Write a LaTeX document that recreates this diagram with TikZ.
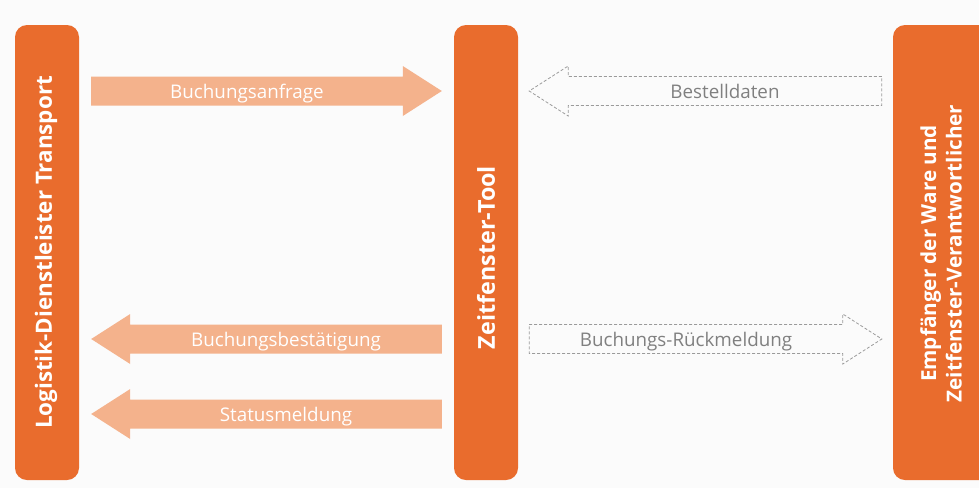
\documentclass[tikz,border=0pt]{standalone}
\usepackage{fontspec}
\setmainfont{Open Sans}
\usetikzlibrary{calc}
\definecolor{boxorange}{RGB}{233,108,45}
\definecolor{arrowlight}{RGB}{244,178,140}
\definecolor{dashgray}{RGB}{155,155,155}
\definecolor{textgray}{RGB}{128,128,128}
\definecolor{bg}{RGB}{251,251,251}
\tikzset{
  lane/.style={fill=boxorange, rounded corners=12pt, minimum width=64pt, minimum height=455pt, inner sep=0pt},
  lanelabel/.style={text=white, font=\bfseries\fontsize{22.4}{25}\selectfont, rotate=90, align=center},
  solidarrow/.style={fill=arrowlight},
  dasharrow/.style={draw=dashgray, line width=0.8pt, dash pattern=on 3pt off 2pt},
  solidlabel/.style={text=white, font=\fontsize{18.8}{20}\selectfont, anchor=base},
  dashlabel/.style={text=textgray, font=\fontsize{18.8}{20}\selectfont, anchor=base},
}
% #1 shape style, #2 label style, #3 tail, #4 tip, #5 text
\newcommand\fatarrow[5]{%
  \path[#1] let \p1=(#3), \p2=(#4), \n1={sign(\x2-\x1)} in
    (\x1,\y1+14.5pt) -- (\x2-\n1*39pt,\y1+14.5pt) -- (\x2-\n1*39pt,\y1+25pt)
    -- (\x2,\y2) -- (\x2-\n1*39pt,\y1-25pt) -- (\x2-\n1*39pt,\y1-14.5pt)
    -- (\x1,\y1-14.5pt) -- cycle;
  \path let \p1=(#3), \p2=(#4), \n1={sign(\x2-\x1)} in
    node[#2] at ({(\x1+\x2-\n1*39pt)/2},\y1-7pt) {#5};
}
\begin{document}
\begin{tikzpicture}[x=1pt,y=-1pt]
  \useasboundingbox (0,0) rectangle (979,488);
  \fill[bg] (0,0) rectangle (979,488);
  \clip (0,0) rectangle (979,488);

  \node[lane] (L) at (47,252.5) {};
  \node[lanelabel] at ([xshift=-1pt]L.center) {Logistik-Dienstleister Transport};
  \node[lane] (M) at (486,252.5) {};
  \node[lanelabel, font=\bfseries\fontsize{23.3}{26}\selectfont] at ([yshift=-5pt]M.center) {Zeitfenster-Tool};
  \node[lane, minimum width=100pt] (R) at (943,252.5) {};
  \node[lanelabel, font=\bfseries\fontsize{20.7}{25.5}\selectfont] at ([xshift=-2pt, yshift=-1pt]R.center) {Empfänger der Ware und\\Zeitfenster-Verantwortlicher};

  \coordinate (r1) at (0,91);
  \coordinate (r2) at (0,339);
  \coordinate (r3) at (0,414);

  \coordinate (a1s) at ([xshift=12pt]L.east |- r1);
  \coordinate (a1e) at ([xshift=-12pt]M.west |- r1);
  \coordinate (a2s) at ([xshift=-11pt]R.west |- r1);
  \coordinate (a2e) at ([xshift=11pt]M.east |- r1);
  \coordinate (a3s) at ([xshift=-12pt]M.west |- r2);
  \coordinate (a3e) at ([xshift=12pt]L.east |- r2);
  \coordinate (a4s) at ([xshift=-12pt]M.west |- r3);
  \coordinate (a4e) at ([xshift=12pt]L.east |- r3);
  \coordinate (a5s) at ([xshift=11pt]M.east |- r2);
  \coordinate (a5e) at ([xshift=-11pt]R.west |- r2);

  \fatarrow{solidarrow}{solidlabel}{a1s}{a1e}{Buchungsanfrage}
  \fatarrow{dasharrow}{dashlabel}{a2s}{a2e}{Bestelldaten}
  \fatarrow{solidarrow}{solidlabel}{a3s}{a3e}{Buchungsbestätigung}
  \fatarrow{solidarrow}{solidlabel}{a4s}{a4e}{Statusmeldung}
  \fatarrow{dasharrow}{dashlabel}{a5s}{a5e}{Buchungs-Rückmeldung}
\end{tikzpicture}
\end{document}
